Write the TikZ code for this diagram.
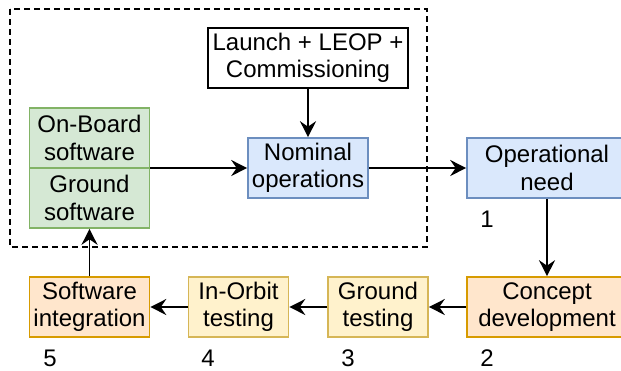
\documentclass[tikz,border=0pt]{standalone}
\usepackage{fontspec}
\setmainfont{Liberation Sans}
\usetikzlibrary{arrows.meta}
\definecolor{bluefill}{HTML}{DAE8FC}
\definecolor{bluedraw}{HTML}{6C8EBF}
\definecolor{greenfill}{HTML}{D5E8D4}
\definecolor{greendraw}{HTML}{82B366}
\definecolor{orangefill}{HTML}{FFE6CC}
\definecolor{orangedraw}{HTML}{D79B00}
\definecolor{yellowfill}{HTML}{FFF2CC}
\definecolor{yellowdraw}{HTML}{D6B656}
\tikzset{
  box/.style={draw, line width=1.6pt, align=center, inner sep=0pt,
    font=\fontsize{24}{27.5}\selectfont},
  bluebox/.style={box, fill=bluefill, draw=bluedraw, minimum width=120pt, minimum height=60pt},
  greenbox/.style={box, fill=greenfill, draw=greendraw, minimum width=120pt, minimum height=60pt},
  orangebox/.style={box, fill=orangefill, draw=orangedraw, minimum height=60pt},
  yellowbox/.style={box, fill=yellowfill, draw=yellowdraw, minimum width=100pt, minimum height=60pt},
  num/.style={font=\fontsize{24}{27.5}\selectfont, inner sep=0pt},
  flow/.style={line width=1.8pt, -{Stealth[length=16pt,width=16pt,inset=5.5pt]}},
}
\begin{document}
\begin{tikzpicture}[x=1pt,y=-1pt]
  \useasboundingbox (0,0) rectangle (621,370);
  % operations phase frame
  \draw[line width=1.6pt, dash pattern=on 6pt off 4pt] (10,9) rectangle (427,247);
  % boxes
  \node[box, fill=white, minimum width=200pt, minimum height=60pt] (launch) at (308,58)
    {Launch + LEOP +\\Commissioning};
  \node[greenbox] (onboard) at (89.5,138) {On-Board\\software};
  \node[greenbox] (ground) at (89.5,198) {Ground\\software};
  \node[bluebox] (nominal) at (308,168) {Nominal\\operations};
  \node[bluebox, minimum width=160pt] (need) at (547,168) {Operational\\need};
  \node[orangebox, minimum width=160pt] (concept) at (547,307) {Concept\\development};
  \node[yellowbox] (gtest) at (378,307) {Ground\\testing};
  \node[yellowbox] (orbit) at (238.5,307) {In-Orbit\\testing};
  \node[orangebox, minimum width=120pt] (integ) at (89.5,307) {Software\\integration};
  % step numbers
  \node[num] (n1) at (487,219) {1};
  \node[num] (n2) at (487,358) {2};
  \node[num] (n3) at (348,358) {3};
  \node[num] (n4) at (208,358) {4};
  \node[num] (n5) at (50,358) {5};
  % connectors
  \draw[flow] (launch.south) -- (nominal.north);
  \draw[flow] (nominal.west -| onboard.east) -- (nominal.west);
  \draw[flow] (nominal.east) -- (need.west);
  \draw[flow] (need.south) -- (concept.north);
  \draw[flow] (concept.west) -- (gtest.east);
  \draw[flow] (gtest.west) -- (orbit.east);
  \draw[flow] (orbit.west) -- (integ.east);
  \draw[flow] (integ.north) -- (ground.south);
\end{tikzpicture}
\end{document}
